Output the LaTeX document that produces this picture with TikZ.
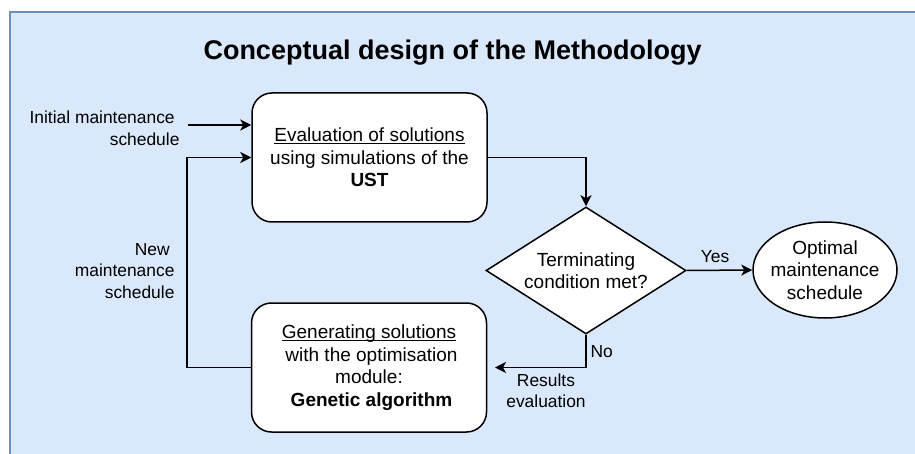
\documentclass[tikz,border=0pt]{standalone}
\usepackage{fontspec}
\setmainfont{Liberation Sans}
\usetikzlibrary{shapes.geometric,arrows.meta}
\definecolor{panelfill}{HTML}{DAE8FC}
\definecolor{panelline}{HTML}{6C8EBF}
\newcommand{\myul}[1]{\setbox0\hbox{#1}\rlap{\rule[-2.2pt]{\wd0}{1pt}}\box0}
\begin{document}
\begin{tikzpicture}[x=1pt,y=-1pt,
  txt/.style={font=\fontsize{19}{22.5}\selectfont},
  lbl/.style={font=\fontsize{17.4}{21.5}\selectfont},
  box/.style={draw, fill=white, line width=1.5pt, rounded corners=20pt,
    minimum width=235pt, minimum height=129pt, align=center, inner sep=0pt, txt},
  flow/.style={line width=1.5pt, -{Stealth[length=11pt,width=11pt,inset=3pt]}},
  shapeline/.style={draw, fill=white, line width=1.5pt, inner sep=0pt}]
\clip (0,0) rectangle (915,454);
\draw[fill=panelfill, draw=panelline, line width=1.5pt] (10,12) rectangle (940,480);

\node[font=\fontsize{27}{32}\selectfont\bfseries, anchor=base] (title) at (452.5,60) {Conceptual design of the Methodology};

\node[box] (eval) at (369.5,157.5) {\myul{Evaluation of solutions}\\using simulations of the\\\textbf{UST}};
\node[box] (gen) at (369,367.5) {\myul{Generating solutions}\\\hspace*{5pt}with the optimisation\\module:\\\hspace*{5pt}\textbf{Genetic algorithm}};
\node[shapeline, diamond, aspect=1.575, minimum width=200pt, minimum height=127pt, align=center, txt] (cond) at (586,270.5) {Terminating\\condition met?};
\node[shapeline, ellipse, minimum width=144pt, minimum height=96pt] (opt) at (825,270) {};
\node[txt, align=center] (opttxt) at (opt.center) {Optimal\\maintenance\\schedule};

\coordinate (initstart) at (188,125);
\coordinate (noend) at (495,367.5);

\draw[flow] (initstart) -- (initstart -| eval.west);
\draw[flow] (gen.west) -- ++(-64,0) |- (eval.west);
\draw[flow] (eval.east) -| (cond.north);
\draw[flow] (cond.east) -- (opt.west);
\draw[flow] (cond.south) |- (noend);

\node[lbl, align=right, anchor=east] (initlbl) at (183,128.5) {Initial maintenance\hspace*{4.8pt}\\schedule};
\node[lbl, align=right, anchor=east] (newlbl) at (178,271) {New\hspace*{4.8pt}\\maintenance\hspace*{4.8pt}\\schedule};
\node[lbl] (yeslbl) at (715,257) {Yes};
\node[lbl, anchor=west] (nolbl) at (587,352) {No};
\node[lbl, align=center] (reslbl) at (546,391) {Results\\evaluation};
\end{tikzpicture}
\end{document}
